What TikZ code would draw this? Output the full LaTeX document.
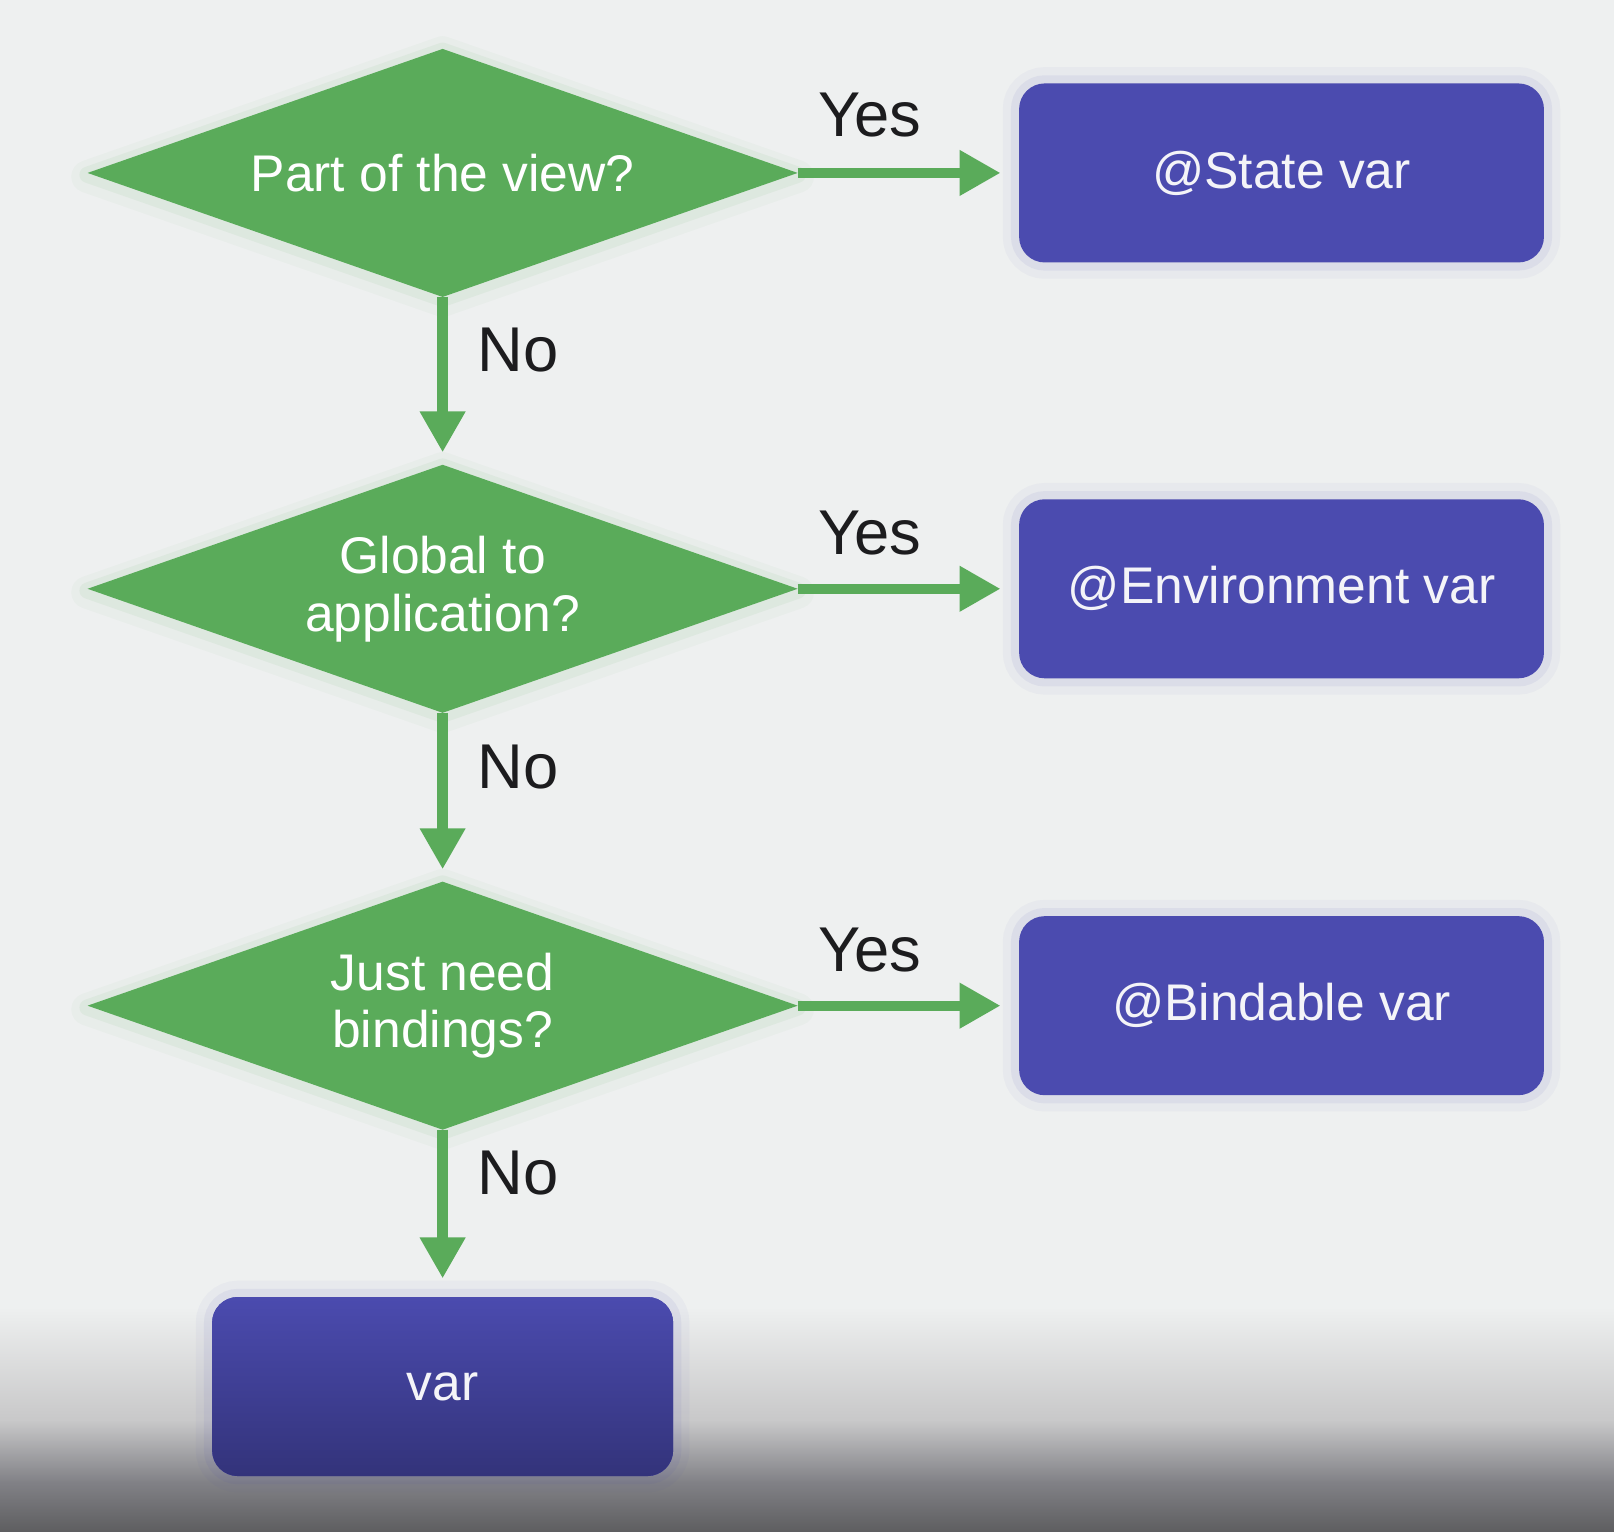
\documentclass[tikz,border=0pt]{standalone}
\usepackage{fontspec}
\setmainfont{Liberation Sans}
\usetikzlibrary{shapes.geometric,arrows.meta}
\definecolor{bg}{HTML}{EEF0F0}
\definecolor{dgreen}{HTML}{5AAB5A}
\definecolor{boxblue}{HTML}{4B4BAF}
\definecolor{boxdark}{HTML}{33337A}
\definecolor{labelc}{HTML}{1C1C1E}
\definecolor{boxtext}{HTML}{F4F4F8}
\definecolor{gA}{HTML}{C8C8C9}
\definecolor{gB}{HTML}{818186}
\definecolor{gC}{HTML}{5E5E60}
\begin{document}
\begin{tikzpicture}[x=0.02cm,y=-0.02cm,
  decision/.style={diamond, aspect=2.86, minimum width=13.8cm, minimum height=4.82cm,
    inner sep=0pt, outer sep=0pt, fill=dgreen, text=white,
    font=\fontsize{28.5}{32}\selectfont, align=center,
    preaction={draw=dgreen, draw opacity=0.04, line width=18pt, line join=round, transform canvas={yshift=-2pt}},
    preaction={draw=dgreen, draw opacity=0.07, line width=9pt, line join=round, transform canvas={yshift=-1pt}}},
  result/.style={rectangle, rounded corners=0.5cm, minimum width=10.2cm, minimum height=3.48cm,
    inner sep=0pt, outer sep=0pt, fill=boxblue, text=boxtext,
    font=\fontsize{28.5}{32}\selectfont,
    preaction={draw=boxblue, draw opacity=0.04, line width=18pt},
    preaction={draw=boxblue, draw opacity=0.07, line width=9pt}},
  flow/.style={draw=dgreen, line width=5.67pt, -{Triangle[length=22.7pt,width=23.8pt]}},
  answer/.style={text=labelc, font=\fontsize{35}{40}\selectfont}
]
\useasboundingbox (0,0) rectangle (1568,1488);
\fill[bg] (0,0) rectangle (1568,1488);
\shade[top color=bg, bottom color=gA] (0,1270) rectangle (1568,1380);
\shade[top color=gA, bottom color=gB] (0,1380) rectangle (1568,1440);
\shade[top color=gB, bottom color=gC] (0,1440) rectangle (1568,1488);

\node[decision] (q1) at (430,168) {Part of the view?};
\node[decision] (q2) at (430,572) {Global to\\application?};
\node[decision] (q3) at (430,977) {Just need\\bindings?};

\node[result] (r1) at (1245,168) {@State var};
\node[result] (r2) at (1245,572) {@Environment var};
\node[result] (r3) at (1245,977) {@Bindable var};
\node[result, minimum width=8.96cm, top color=boxblue, middle color=boxblue!92!boxdark, bottom color=boxdark] (r4) at (430,1347) {var};

\draw[flow, shorten >=0.36cm] (q1.east) -- (r1.west);
\draw[flow, shorten >=0.36cm] (q2.east) -- (r2.west);
\draw[flow, shorten >=0.36cm] (q3.east) -- (r3.west);
\draw[flow, shorten >=0.24cm] (q1.south) -- (q2.north);
\draw[flow, shorten >=0.24cm] (q2.south) -- (q3.north);
\draw[flow, shorten >=0.36cm] (q3.south) -- (r4.north);

\node[answer] (y1) at (845,112) {Yes};
\node[answer] (y2) at (845,518) {Yes};
\node[answer] (y3) at (845,923) {Yes};
\node[answer] (n1) at (503,340) {No};
\node[answer] (n2) at (503,745) {No};
\node[answer] (n3) at (503,1140) {No};
\end{tikzpicture}
\end{document}
